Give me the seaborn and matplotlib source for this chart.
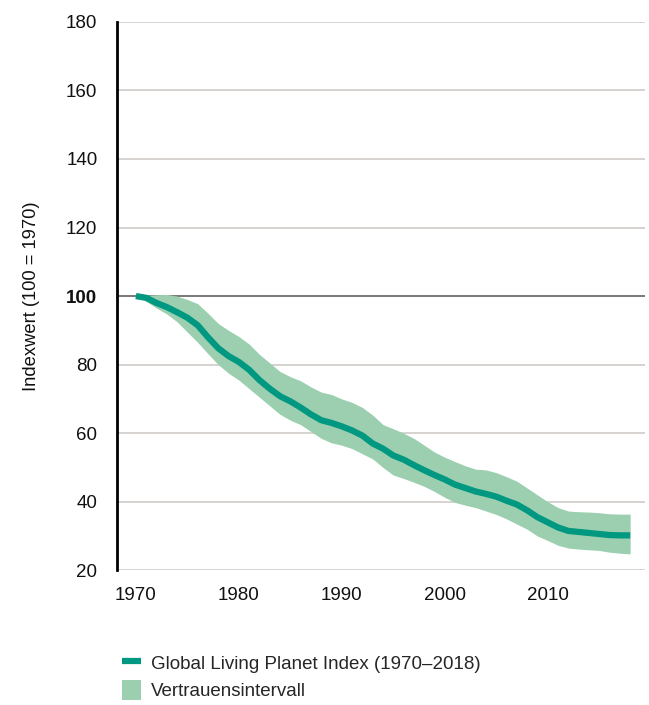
import matplotlib
matplotlib.use("Agg")
import matplotlib.pyplot as plt
import numpy as np
import pandas as pd
import seaborn as sns
from matplotlib.lines import Line2D
from matplotlib.patches import Patch

LINE_COLOR = "#009880"
BAND_COLOR = "#9BCFAF"
GRID_COLOR = "#ccc6c2"

years = list(range(1970, 2019))
index_values = [
    100, 99.5, 98, 96.8, 95.3, 93.7, 91.5, 88, 84.8, 82.5,
    80.8, 78.5, 75.5, 73, 70.8, 69.3, 67.5, 65.5, 63.8, 63,
    62, 60.8, 59.3, 57, 55.5, 53.5, 52.3, 50.7, 49.2, 47.8,
    46.5, 45, 44, 43, 42.3, 41.5, 40.3, 39.2, 37.5, 35.5,
    34, 32.5, 31.5, 31.2, 30.9, 30.6, 30.3, 30.2, 30.2,
]
upper = [
    100, 100.2, 100.4, 100.5, 100, 99, 97.8, 95, 92, 90,
    88.2, 86, 83, 80.5, 78, 76.5, 75.3, 73.5, 72, 71.3,
    70, 69, 67.5, 65.3, 62.5, 61.3, 60, 58.5, 56.5, 54.5,
    53, 51.7, 50.5, 49.5, 49.3, 48.5, 47.3, 46, 44, 42,
    40, 38.3, 37.3, 37.1, 37, 36.8, 36.5, 36.4, 36.4,
]
lower = [
    100, 98.5, 96.5, 94.8, 92.5, 89.5, 86.5, 83.2, 80, 77.5,
    75.5, 73, 70.5, 68, 65.5, 63.8, 62.5, 60.5, 58.5, 57.2,
    56.5, 55.5, 54, 52.5, 50, 47.8, 46.8, 45.7, 44.5, 43,
    41.3, 39.8, 39, 38.3, 37.3, 36.3, 35, 33.5, 32, 30,
    28.7, 27.3, 26.5, 26.2, 26, 25.8, 25.3, 25, 24.8,
]
y_ticks = [20, 40, 60, 80, 100, 120, 140, 160, 180]
x_ticks = [1970, 1980, 1990, 2000, 2010]

LABEL_LINE = "Global Living Planet Index (1970\u20132018)"
LABEL_BAND = "Vertrauensintervall"
LABEL_Y = "Indexwert (100 = 1970)"

df = pd.DataFrame({"year": years, "index": index_values, "upper": upper, "lower": lower})

sns.set_style("white")
plt.rcParams["font.family"] = ["Liberation Sans", "DejaVu Sans"]

fig = plt.figure(figsize=(6.49, 7.05), dpi=100)
ax = fig.add_axes([0.180, 0.191, 0.814, 0.778])

# grid lines, 100 line darker
for t in y_ticks:
    ax.axhline(t, color="#555555" if t == 100 else GRID_COLOR, lw=1.1, zorder=0)

ax.fill_between(df["year"], df["lower"], df["upper"], color=BAND_COLOR, lw=0, zorder=1)
sns.lineplot(data=df, x="year", y="index", ax=ax, color=LINE_COLOR, lw=4.5, zorder=2,
             solid_capstyle="butt")

ax.set_xlim(1968.15, 2019.45)
ax.set_ylim(20, 180)
ax.set_yticks(y_ticks)
ax.set_xticks(x_ticks)
ax.tick_params(length=0, labelsize=13.5, colors="#111111")
ax.tick_params(axis="y", pad=14)
ax.tick_params(axis="x", pad=12)
for lbl in ax.get_yticklabels():
    if lbl.get_text() == "100":
        lbl.set_fontweight("bold")

for side in ["top", "right", "bottom"]:
    ax.spines[side].set_visible(False)
ax.spines["left"].set_color("black")
ax.spines["left"].set_linewidth(2)

ax.set_xlabel("")
ax.set_ylabel(LABEL_Y, fontsize=13.2, labelpad=19, color="#111111")

handles = [
    Line2D([0], [0], color=LINE_COLOR, lw=4.5, solid_capstyle="butt"),
    Patch(facecolor=BAND_COLOR, edgecolor="none"),
]
fig.legend(handles, [LABEL_LINE, LABEL_BAND], loc="upper left",
           bbox_to_anchor=(0.188, 0.074), frameon=False, fontsize=13.5,
           handlelength=1.0, handleheight=1.3, handletextpad=0.55,
           labelspacing=0.35, borderaxespad=0, borderpad=0)

fig.savefig("out.png", dpi=100)
